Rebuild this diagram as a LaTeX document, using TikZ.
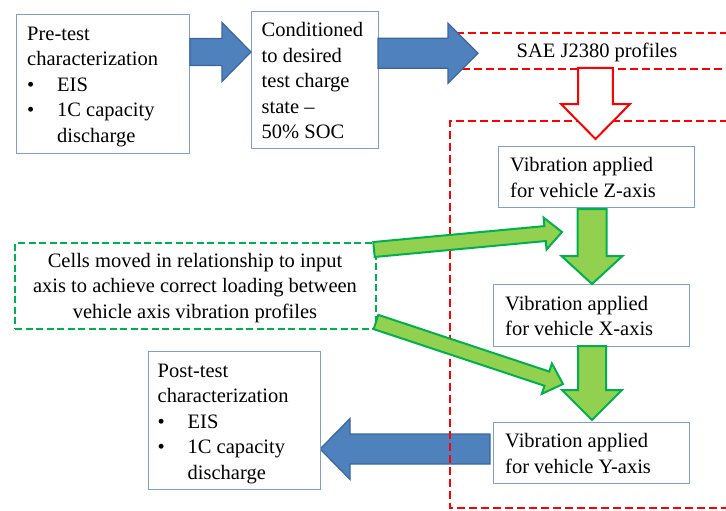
\documentclass[tikz,border=0pt]{standalone}
\usepackage{fontspec}
\setmainfont{Liberation Serif}
\usetikzlibrary{calc}
\definecolor{boxblue}{HTML}{7EA0D0}
\definecolor{arrblue}{HTML}{4F81BD}
\definecolor{arrblueedge}{HTML}{3A679E}
\definecolor{lgreen}{HTML}{92D050}
\definecolor{dgreen}{HTML}{00B050}
\definecolor{dred}{HTML}{FF0000}
\newcommand\T{\rule{0pt}{16pt}}
\newcommand\bul{\makebox[30pt][l]{\textbullet}}
\newcommand\blockarrow[6]{%
  \coordinate (ba-h) at ($(#3)!#6!(#2)$);
  \draw[#1] ($(#2)!#4!90:(#3)$) -- ($(ba-h)!#4!90:(#3)$) -- ($(ba-h)!#5!90:(#3)$)
    -- (#3) -- ($(ba-h)!#5!-90:(#3)$) -- ($(ba-h)!#4!-90:(#3)$)
    -- ($(#2)!#4!-90:(#3)$) -- cycle;
}
\tikzset{
  box/.style={draw=boxblue, line width=1.2pt, fill=white, anchor=north west, inner sep=0pt},
  txt/.style={anchor=north west, inner sep=0pt, align=left, font=\fontsize{20.5}{25.5}\selectfont},
  bluearrow/.style={fill=arrblue, draw=arrblueedge, line width=1.2pt},
  greenarrow/.style={fill=lgreen, draw=dgreen, line width=2pt},
  redarrow/.style={fill=white, draw=dred, line width=2pt},
  redframe/.style={draw=dred, line width=2.5pt, dash pattern=on 8pt off 4pt},
  greenframe/.style={draw=dgreen, line width=2pt, dash pattern=on 7pt off 3.5pt, inner sep=0pt, anchor=north west}
}
\begin{document}
\begin{tikzpicture}[x=1pt, y=-1pt]
\useasboundingbox (0,0) rectangle (726,511);

% arrow endpoints
\coordinate (b1s) at (190,52);   \coordinate (b1e) at (251,52);
\coordinate (b2s) at (378,53.3); \coordinate (b2e) at (478,53.3);
\coordinate (b3s) at (490,449);  \coordinate (b3e) at (320,449);
\coordinate (g1s) at (374,249.5);\coordinate (g1e) at (562,232);
\coordinate (g2s) at (376,322);  \coordinate (g2e) at (563,384);
\coordinate (gzs) at (592,209);  \coordinate (gze) at (592,284);
\coordinate (gxs) at (592,346);  \coordinate (gxe) at (592,420);
\coordinate (rs)  at (595.5,68); \coordinate (re)  at (595.5,139);

% blue arrow to post-test (beneath the red frame)
\blockarrow{bluearrow}{b3s}{b3e}{15pt}{30.5pt}{30pt}

% red dashed frames
\draw[redframe] (740,33) -- (457,33) -- (457,69) -- (740,69);
\draw[redframe] (740,121) -- (450,121) -- (450,508) -- (740,508);

% boxes
\node[box, minimum width=173pt, minimum height=139pt] (pre) at (16,14) {};
\node[box, minimum width=127pt, minimum height=137pt] (cond) at (251,11) {};
\node[box, minimum width=172pt, minimum height=138pt] (post) at (148,351) {};
\node[box, minimum width=196pt, minimum height=61pt] (zbox) at (498,146) {};
\node[box, minimum width=196pt, minimum height=62pt] (xbox) at (493,284) {};
\node[box, minimum width=196pt, minimum height=61pt] (ybox) at (493,422) {};
\node[greenframe, minimum width=361pt, minimum height=86pt] (cells) at (14,242) {};

% texts
\node[txt] (pretxt) at (27,24) {\T Pre-test\\characterization\\\bul EIS\\\bul 1C capacity\\\hspace*{30pt}discharge};
\node[txt] (condtxt) at (261.5,20.5) {\T Conditioned\\to desired\\test charge\\state --\\50\% SOC};
\node[txt, anchor=base] (saetxt) at (597,58) {SAE J2380 profiles};
\node[txt] (ztxt) at (510,155.5) {\T Vibration applied\\for vehicle Z-axis};
\node[txt] (xtxt) at (505,294) {\T Vibration applied\\for vehicle X-axis};
\node[txt] (ytxt) at (505,431.5) {\T Vibration applied\\for vehicle Y-axis};
\node[txt, anchor=north, align=center] (cellstxt) at (195,251) {\T Cells moved in relationship to input\\axis to achieve correct loading between\\vehicle axis vibration profiles};
\node[txt] (posttxt) at (157.5,361) {\T Post-test\\characterization\\\bul EIS\\\bul 1C capacity\\\hspace*{30pt}discharge};

% blue arrows
\blockarrow{bluearrow}{b1s}{b1e}{13.5pt}{29.5pt}{29pt}
\blockarrow{bluearrow}{b2s}{b2e}{15pt}{30pt}{30pt}

% green arrows
\blockarrow{greenarrow}{gzs}{gze}{14.5pt}{30.5pt}{28pt}
\blockarrow{greenarrow}{gxs}{gxe}{14pt}{30pt}{30pt}
\blockarrow{greenarrow}{g1s}{g1e}{7.5pt}{16pt}{17pt}
\blockarrow{greenarrow}{g2s}{g2e}{7.5pt}{16pt}{17pt}

% red hollow arrow
\blockarrow{redarrow}{rs}{re}{17.3pt}{34.5pt}{35pt}
\end{tikzpicture}
\end{document}
